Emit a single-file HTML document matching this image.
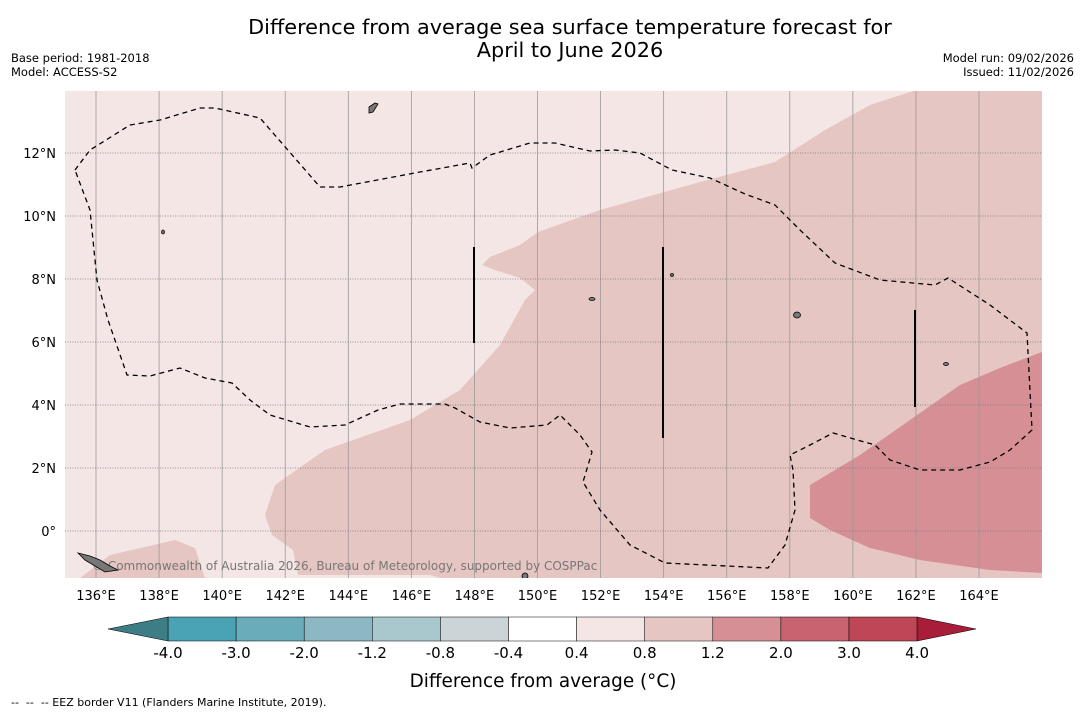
<!DOCTYPE html>
<html><head><meta charset="utf-8"><style>
body{margin:0;background:#fff;width:1085px;height:713px;overflow:hidden;font-family:"Liberation Sans","DejaVu Sans",sans-serif;}
svg{position:absolute;left:0;top:0}
text{font-family:"DejaVu Sans","Liberation Sans",sans-serif;fill:#000}
</style></head><body>
<svg id="c" width="1085" height="713">
<text x="570" y="34" font-size="20.8" text-anchor="middle">Difference from average sea surface temperature forecast for</text>
<text x="570" y="57" font-size="20.8" text-anchor="middle">April to June 2026</text>
<text x="11" y="62" font-size="11.5">Base period: 1981-2018</text>
<text x="11" y="76" font-size="11.5">Model: ACCESS-S2</text>
<text x="1074" y="62" font-size="11.5" text-anchor="end">Model run: 09/02/2026</text>
<text x="1074" y="76" font-size="11.5" text-anchor="end">Issued: 11/02/2026</text>
<defs><clipPath id="mc"><rect x="65" y="91" width="977" height="487"/></clipPath></defs>
<g clip-path="url(#mc)">
<rect x="65" y="91" width="977" height="487" fill="#f4e6e5"/>
<path fill="#e6c6c2" d="M913,91 L1042,91 L1042,578 L440,578 L430,575 L298,575 L293,550 L272,535 L265,515 L275,485 L325,450 L410,420 L460,390 L500,345 L525,300 L535,290 L520,278 L495,270 L482,265 L490,257 L520,245 L538,232 L600,210 L700,182 L775,162 L825,130 L870,105 Z"/>
<path fill="#e6c6c2" d="M80,578 L110,555 L175,540 L195,548 L205,578 Z"/>
<path fill="#d68f95" d="M810,485 L860,455 L910,420 L960,385 L1000,368 L1042,352 L1042,573 L990,570 L920,560 L870,548 L830,530 L810,518 Z"/>
<g id="grid"></g>
<path fill="none" stroke="#000" stroke-width="1.3" stroke-dasharray="5,4" d="M75,170 L90,150 L130,125 L160,120 L200,108 L215,108 L260,118 L320,187 L340,187 L420,172 L470,163 L472,168 L490,155 L530,143 L555,143 L590,151 L615,150 L640,153 L672,170 L710,178 L745,194 L775,205 L800,230 L835,263 L880,280 L935,285 L948,278 L990,305 L1027,333 L1032,430 L1010,450 L990,462 L960,470 L920,470 L890,460 L875,445 L833,433 L810,445 L790,455 L793,470 L795,510 L785,545 L768,568 L665,563 L630,545 L600,510 L583,482 L592,452 L580,435 L560,415 L547,425 L510,428 L480,422 L455,408 L445,404 L400,404 L378,410 L345,425 L310,427 L270,415 L250,400 L232,383 L205,378 L180,368 L150,376 L127,375 L108,320 L97,280 L90,210 Z"/>
<g stroke="#000" stroke-width="2">
<line x1="474" y1="247" x2="474" y2="343"/><line x1="663" y1="247" x2="663" y2="438"/><line x1="915" y1="310" x2="915" y2="407"/></g>
<text x="92" y="570" font-size="12" fill="#777" style="fill:#777">© Commonwealth of Australia 2026, Bureau of Meteorology, supported by COSPPac</text>
<g fill="#777" stroke="#000" stroke-width="0.8">
<path d="M78,553 L90,556 L100,560 L110,566 L118,570 L105,572 L95,566 L85,560 Z"/>
<path d="M369,107 L375,103 L378,104 L373,112 L369,113 Z"/>
<ellipse cx="797" cy="315" rx="3.5" ry="3"/><ellipse cx="946" cy="364" rx="2.5" ry="1.5"/>
<ellipse cx="525" cy="576" rx="3" ry="3"/><ellipse cx="163" cy="232" rx="1.5" ry="2"/>
<ellipse cx="592" cy="299" rx="3" ry="1.5"/><ellipse cx="672" cy="275" rx="1.5" ry="1.5"/></g>
</g>
<g id="axes"></g>
<g id="cbar"></g>
<text x="543" y="687" font-size="18.4" text-anchor="middle">Difference from average (°C)</text>
<text x="11" y="706" font-size="11" style="white-space:pre" xml:space="preserve">--  --  -- EEZ border V11 (Flanders Marine Institute, 2019).</text>
</svg>
<script>
const lonTicks=[136,138,140,142,144,146,148,150,152,154,156,158,160,162,164];
const latTicks=[0,2,4,6,8,10,12];
const cbBounds=[-4.0,-3.0,-2.0,-1.2,-0.8,-0.4,0.4,0.8,1.2,2.0,3.0,4.0];
const cbColors=["#4aa3b4","#6aacb9","#8bb8c3","#a9c8cd","#cbd5d7","#ffffff","#f4e6e5","#e6c6c2","#d68f95","#c86470","#bf4656"];
const NS="http://www.w3.org/2000/svg";
function xLon(l){return 96+(l-136)*31.536;}
function yLat(l){return 531-l*31.5;}
function mk(t,a,p){const e=document.createElementNS(NS,t);for(const k in a)e.setAttribute(k,a[k]);p.appendChild(e);return e;}
const g=document.getElementById('grid'),ax=document.getElementById('axes'),cb=document.getElementById('cbar');
lonTicks.forEach(l=>{const x=xLon(l);
 const ln=mk('line',{x1:x,y1:91,x2:x,y2:578,stroke:'#999','stroke-width':0.8},g);
 
 
 const t=mk('text',{x:x,y:600,'font-size':13,'text-anchor':'middle'},ax);t.textContent=l+'°E';
 
 });
latTicks.forEach(l=>{const y=yLat(l);
 const ln=mk('line',{x1:65,y1:y,x2:1042,y2:y,stroke:'#777','stroke-width':0.8,'stroke-dasharray':'1,1.5'},g);
 
 
 const t=mk('text',{x:56,y:y+5,'font-size':13,'text-anchor':'end'},ax);t.textContent=l===0?'0°':l+'°N';
 
 });
const cx0=168,cw=68.1,cy=617,ch=24,n=cbColors.length;
function xb(i){return cx0+i*cw;}
cbColors.forEach((c,i)=>{const r=mk('rect',{x:xb(i),y:cy,width:cw,height:ch,fill:c,stroke:'#000','stroke-width':0.5},cb);
 
 });
const lt=mk('polygon',{points:`108,629 ${cx0},${cy} ${cx0},${cy+ch}`,fill:'#3d7d85',stroke:'#000','stroke-width':0.5},cb);


const rt=mk('polygon',{points:`${xb(n)},${cy} 976,629 ${xb(n)},${cy+ch}`,fill:'#a81e3a',stroke:'#000','stroke-width':0.5},cb);


cbBounds.forEach((b,i)=>{const t=mk('text',{x:xb(i),y:658,'font-size':15,'text-anchor':'middle'},cb);t.textContent=b.toFixed(1);
 
 });
</script>
</body></html>
